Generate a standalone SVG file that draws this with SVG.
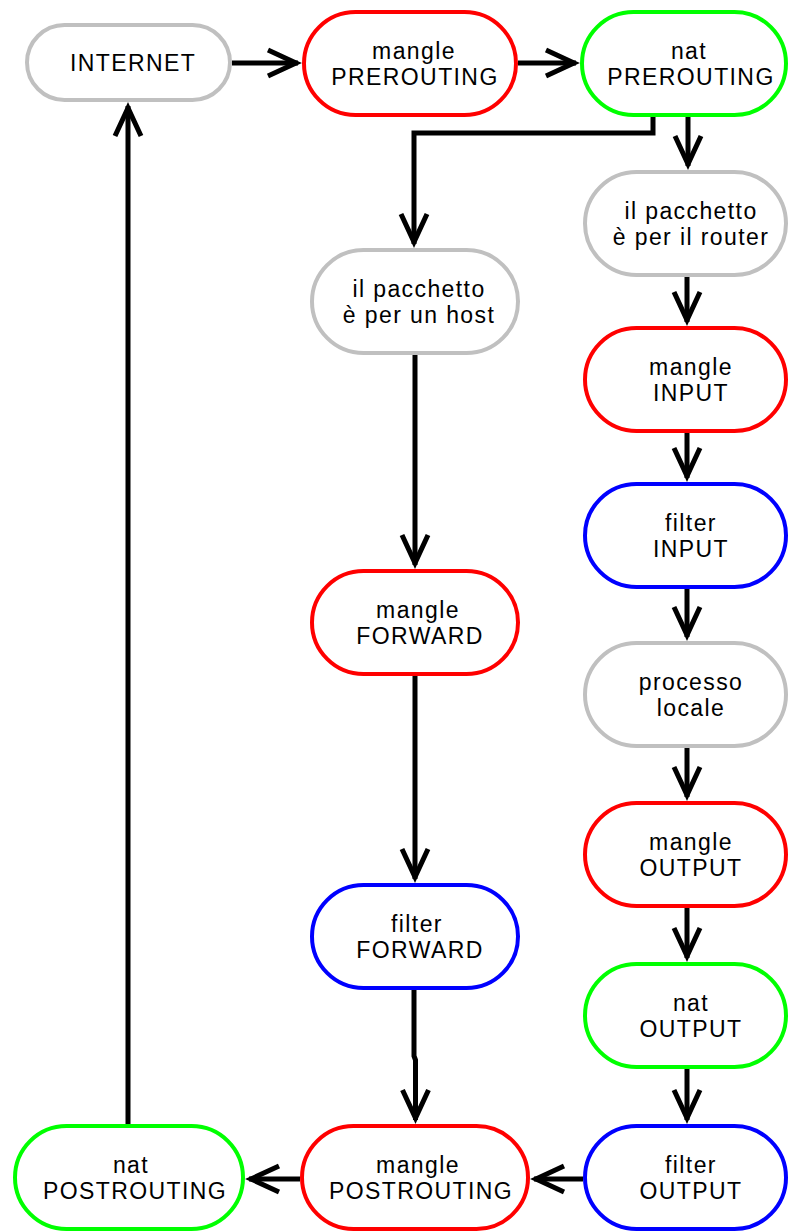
<svg xmlns="http://www.w3.org/2000/svg" width="788" height="1232" viewBox="0 0 788 1232">
  <style>
    .n { fill: #ffffff; stroke-width: 4; }
    .gray { stroke: #c0c0c0; }
    .red { stroke: #ff0000; }
    .green { stroke: #00ff00; }
    .blue { stroke: #0000ff; }
    text { font-family: "Liberation Sans", Arial, Helvetica, sans-serif; font-size: 23px; letter-spacing: 1.4px; fill: #000000; text-anchor: middle; }
    .c { fill: none; stroke: #000000; stroke-width: 5; marker-end: url(#ah); }
  </style>
  <defs>
    <marker id="ah" markerUnits="userSpaceOnUse" viewBox="-40 -20 50 40" markerWidth="50" markerHeight="40" refX="0" refY="0" orient="auto" overflow="visible">
      <path d="M-30,-13 L-2,0 L-30,13" fill="none" stroke="#000000" stroke-width="5" stroke-linejoin="miter"/>
    </marker>
  </defs>
  <rect width="788" height="1232" fill="#ffffff"/>

  <g id="connectors">
    <path class="c" d="M232,63 H298"/>
    <path class="c" d="M518,63 H576"/>
    <path class="c" d="M653,115 V133 H414 V244"/>
    <path class="c" d="M688,115 V166"/>
    <path class="c" d="M687,277 V322"/>
    <path class="c" d="M687,433 V478"/>
    <path class="c" d="M687,589 V637"/>
    <path class="c" d="M687,748 V797"/>
    <path class="c" d="M687,908 V958"/>
    <path class="c" d="M687,1069 V1120"/>
    <path class="c" d="M415,355 V565"/>
    <path class="c" d="M415,676 V879"/>
    <path class="c" d="M414,990 V1056 L415.5,1060 V1120"/>
    <path class="c" d="M583,1179 H534"/>
    <path class="c" d="M300,1179 H249"/>
    <path class="c" d="M128,1124 V106"/>
  </g>

  <g id="internet">
    <rect class="n gray" x="27" y="25" width="203" height="75" rx="37.5"/>
    <text x="133" y="71">INTERNET</text>
  </g>
  <g id="mangle-prerouting">
    <rect class="n red" x="304" y="12" width="212" height="103" rx="51.5"/>
    <text x="414" y="59">mangle</text>
    <text x="415" y="85">PREROUTING</text>
  </g>
  <g id="nat-prerouting">
    <rect class="n green" x="582" y="12" width="204" height="103" rx="51.5"/>
    <text x="689" y="59">nat</text>
    <text x="691" y="85">PREROUTING</text>
  </g>
  <g id="pacchetto-router">
    <rect class="n gray" x="585" y="172" width="201" height="103" rx="51.5"/>
    <text x="691" y="219">il pacchetto</text>
    <text x="691" y="245">è per il router</text>
  </g>
  <g id="mangle-input">
    <rect class="n red" x="585" y="328" width="201" height="103" rx="51.5"/>
    <text x="691" y="375">mangle</text>
    <text x="691" y="401">INPUT</text>
  </g>
  <g id="filter-input">
    <rect class="n blue" x="585" y="484" width="201" height="103" rx="51.5"/>
    <text x="691" y="531">filter</text>
    <text x="691" y="557">INPUT</text>
  </g>
  <g id="processo-locale">
    <rect class="n gray" x="585" y="643" width="201" height="103" rx="51.5"/>
    <text x="691" y="690">processo</text>
    <text x="691" y="716">locale</text>
  </g>
  <g id="mangle-output">
    <rect class="n red" x="585" y="803" width="201" height="103" rx="51.5"/>
    <text x="691" y="850">mangle</text>
    <text x="691" y="876">OUTPUT</text>
  </g>
  <g id="nat-output">
    <rect class="n green" x="585" y="964" width="201" height="103" rx="51.5"/>
    <text x="691" y="1011">nat</text>
    <text x="691" y="1037">OUTPUT</text>
  </g>
  <g id="filter-output">
    <rect class="n blue" x="585" y="1126" width="201" height="103" rx="51.5"/>
    <text x="691" y="1173">filter</text>
    <text x="691" y="1199">OUTPUT</text>
  </g>
  <g id="pacchetto-host">
    <rect class="n gray" x="312" y="250" width="206" height="103" rx="51.5"/>
    <text x="419" y="297">il pacchetto</text>
    <text x="419" y="323">è per un host</text>
  </g>
  <g id="mangle-forward">
    <rect class="n red" x="312" y="571" width="206" height="103" rx="51.5"/>
    <text x="418" y="618">mangle</text>
    <text x="420" y="644">FORWARD</text>
  </g>
  <g id="filter-forward">
    <rect class="n blue" x="312" y="885" width="206" height="103" rx="51.5"/>
    <text x="417" y="932">filter</text>
    <text x="420" y="958">FORWARD</text>
  </g>
  <g id="mangle-postrouting">
    <rect class="n red" x="302" y="1126" width="226" height="103" rx="51.5"/>
    <text x="418" y="1173">mangle</text>
    <text x="421" y="1199">POSTROUTING</text>
  </g>
  <g id="nat-postrouting">
    <rect class="n green" x="15" y="1126" width="228" height="103" rx="51.5"/>
    <text x="131" y="1173">nat</text>
    <text x="135" y="1199">POSTROUTING</text>
  </g>
</svg>
